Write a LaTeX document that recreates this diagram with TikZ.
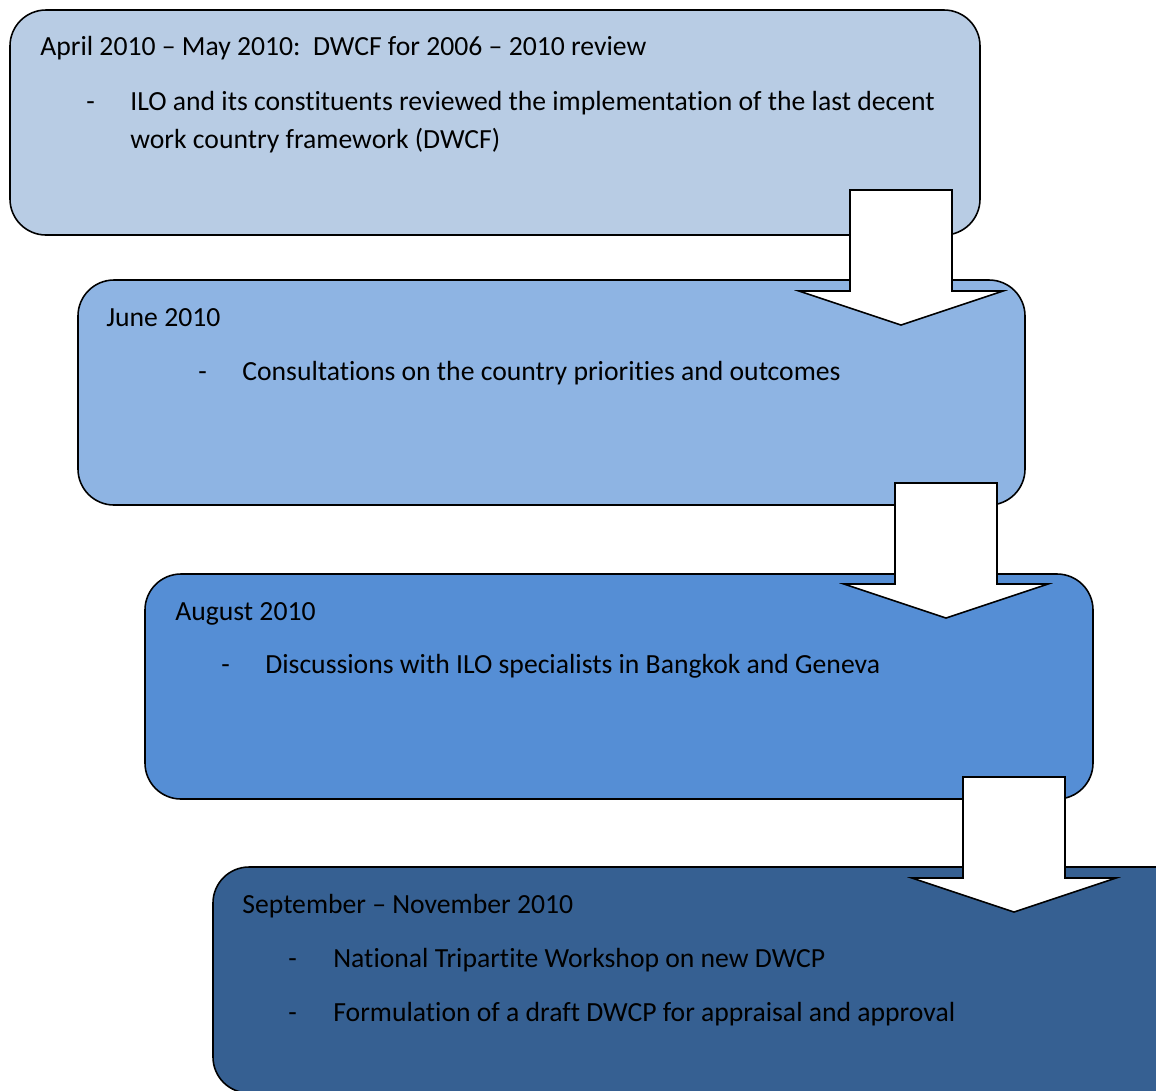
\documentclass[tikz,border=0pt]{standalone}
\usepackage{fontspec}
\setmainfont{Carlito}[RawFeature={-liga,-clig}]
\definecolor{phaseA}{HTML}{B8CCE4}
\definecolor{phaseB}{HTML}{8EB4E3}
\definecolor{phaseC}{HTML}{558ED5}
\definecolor{phaseD}{HTML}{366092}
\begin{document}
\begin{tikzpicture}
  [x=0.02cm,y=-0.02cm,every node/.style={inner sep=0pt,anchor=base west,font=\fontsize{15.75}{19}\selectfont}]
  \tikzstyle{phase} = [draw,line width=0.9pt,rounded corners=0.72cm]
  \tikzstyle{blockarrow} = [draw,fill=white,line width=0.9pt]
  \useasboundingbox (0,0) rectangle (1156,1090);
  \clip (0,0) rectangle (1156,1090);
  % stages
  \draw[phase,fill=phaseA] (10,10) rectangle (980,235);
  \draw[phase,fill=phaseB] (78,280) rectangle (1025,505);
  \draw[phase,fill=phaseC] (145,574) rectangle (1093,799);
  \draw[phase,fill=phaseD] (213,867) rectangle (1195,1093);
  % texts
  \node (t1) at (40,55) {April 2010 -- May 2010:\ \ DWCF for 2006 -- 2010 review};
  \node (d1) at (86,110) {-};
  \node (t1a) at (130,110) {ILO and its constituents reviewed the implementation of the last decent};
  \node (t1b) at (130,148) {work country framework (DWCF)};
  \node (t2) at (106,326) {June 2010};
  \node (d2) at (198,380) {-};
  \node (t2a) at (242,380) {Consultations on the country priorities and outcomes};
  \node (t3) at (175,620) {August 2010};
  \node (d3) at (221,673) {-};
  \node (t3a) at (265,673) {Discussions with ILO specialists in Bangkok and Geneva};
  \node (t4) at (242,913) {September -- November 2010};
  \node (d4) at (288,967) {-};
  \node (t4a) at (333,967) {National Tripartite Workshop on new DWCP};
  \node (d5) at (288,1021) {-};
  \node (t4b) at (333,1021) {Formulation of a draft DWCP for appraisal and approval};
  % arrows
\foreach \x/\y in {850/190,895/483,963/777}
  \draw[blockarrow] (\x,\y) -- ++(102,0) -- ++(0,101) -- ++(51,0) -- ++(-102,34)
    -- ++(-102,-34) -- ++(51,0) -- cycle;
\end{tikzpicture}
\end{document}
